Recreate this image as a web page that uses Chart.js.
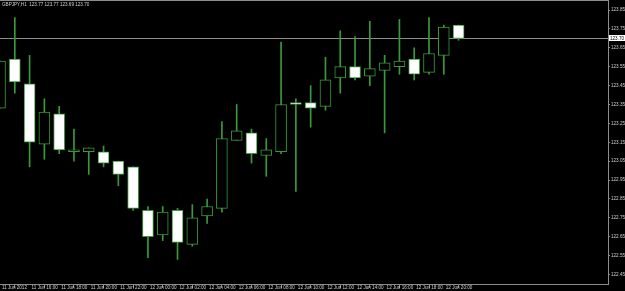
<!DOCTYPE html>
<html lang="en">
<head>
<meta charset="UTF-8">
<title>GBPJPY,H1</title>
<script src="https://cdn.jsdelivr.net/npm/chart.js"></script>
<style>
    html, body { margin: 0; padding: 0; background: #000; overflow: hidden; }
</style>
</head>
<body>
<canvas id="chart" width="625" height="291"></canvas>
<script>
    // GBPJPY H1 candles, 11 Jun 14:00 .. 12 Jun 21:00
    const symbol = 'GBPJPY,H1';
    const times = [
        '11 Jun 14:00', '11 Jun 15:00', '11 Jun 16:00', '11 Jun 17:00', '11 Jun 18:00', '11 Jun 19:00',
        '11 Jun 20:00', '11 Jun 21:00', '11 Jun 22:00', '11 Jun 23:00',
        '12 Jun 00:00', '12 Jun 01:00', '12 Jun 02:00', '12 Jun 03:00', '12 Jun 04:00', '12 Jun 05:00',
        '12 Jun 06:00', '12 Jun 07:00', '12 Jun 08:00', '12 Jun 09:00', '12 Jun 10:00', '12 Jun 11:00',
        '12 Jun 12:00', '12 Jun 13:00', '12 Jun 14:00', '12 Jun 15:00', '12 Jun 16:00', '12 Jun 17:00',
        '12 Jun 18:00', '12 Jun 19:00', '12 Jun 20:00', '12 Jun 21:00'
    ];
    const opens  = [123.33, 123.59, 123.46, 123.14, 123.30, 123.10, 123.10, 123.10, 123.05, 123.02, 122.79, 122.66, 122.79, 122.61, 122.76, 122.80,
                    123.16, 123.20, 123.08, 123.10, 123.36, 123.36, 123.34, 123.49, 123.55, 123.50, 123.53, 123.55, 123.59, 123.52, 123.61, 123.77];
    const highs  = [123.58, 123.81, 123.61, 123.38, 123.34, 123.22, 123.12, 123.13, 123.05, 123.02, 122.81, 122.81, 122.80, 122.82, 122.85, 123.26,
                    123.35, 123.22, 123.17, 123.68, 123.38, 123.45, 123.60, 123.74, 123.71, 123.79, 123.61, 123.80, 123.65, 123.81, 123.77, 123.77];
    const lows   = [123.33, 123.41, 123.02, 123.06, 123.09, 123.05, 122.98, 123.02, 122.92, 122.79, 122.54, 122.63, 122.53, 122.60, 122.72, 122.78,
                    123.16, 123.04, 122.97, 123.09, 122.89, 123.23, 123.32, 123.41, 123.48, 123.45, 123.20, 123.51, 123.48, 123.51, 123.51, 123.69];
    const closes = [123.58, 123.47, 123.15, 123.31, 123.11, 123.11, 123.12, 123.04, 122.98, 122.80, 122.65, 122.78, 122.62, 122.75, 122.81, 123.17,
                    123.21, 123.09, 123.11, 123.35, 123.35, 123.33, 123.48, 123.55, 123.49, 123.54, 123.57, 123.58, 123.51, 123.62, 123.76, 123.70];

    const yTicks = [123.85, 123.75, 123.65, 123.55, 123.45, 123.35, 123.25, 123.15, 123.05, 122.95, 122.85, 122.75, 122.65, 122.55, 122.45];
    const xTickLabels = [
        '11 Jun 2012', '11 Jun 16:00', '11 Jun 18:00', '11 Jun 20:00', '11 Jun 22:00',
        '12 Jun 00:00', '12 Jun 02:00', '12 Jun 04:00', '12 Jun 06:00', '12 Jun 08:00', '12 Jun 10:00',
        '12 Jun 12:00', '12 Jun 14:00', '12 Jun 16:00', '12 Jun 18:00', '12 Jun 20:00'
    ];

    const green = '#3a9a3a';
    const textColor = '#cfcfcf';
    const frameColor = '#8c8c8c';
    const tinyFont = { family: 'Liberation Sans', size: 4.6 };

    const last = times.length - 1;
    const bid = closes[last];

    const bodies = times.map((t, i) => ({ x: i, y: [opens[i], closes[i]] }));
    const wicks = times.map((t, i) => ({ x: i, y: [lows[i], highs[i]] }));
    // bull candle hollow (black), bear candle white
    const bodyFill = times.map((t, i) => closes[i] >= opens[i] ? '#000000' : '#ffffff');

    // bid line, price box and the header text
    const overlay = {
        id: 'overlay',
        beforeDatasetsDraw(chart) {
            const { ctx, chartArea, scales } = chart;
            const y = Math.round(scales.y.getPixelForValue(bid)) + 0.5;
            ctx.save();
            ctx.strokeStyle = frameColor;
            ctx.lineWidth = 1;
            ctx.beginPath();
            ctx.moveTo(chartArea.left, y);
            ctx.lineTo(chartArea.right, y);
            ctx.moveTo(chartArea.left, chartArea.top + 0.5);
            ctx.lineTo(chartArea.right, chartArea.top + 0.5);
            ctx.stroke();
            ctx.restore();
        },
        afterDraw(chart) {
            const { ctx, chartArea, scales } = chart;
            const y = Math.round(scales.y.getPixelForValue(bid));
            ctx.save();
            ctx.fillStyle = '#ffffff';
            ctx.fillRect(chartArea.right + 1, y - 3, 16, 6);
            ctx.fillStyle = '#000000';
            ctx.font = tinyFont.size + 'px "' + tinyFont.family + '"';
            ctx.textBaseline = 'middle';
            ctx.fillText(bid.toFixed(2), chartArea.right + 2, y + 0.5);

            ctx.fillStyle = textColor;
            ctx.textBaseline = 'top';
            const head = symbol + '  ' + [opens[last], highs[last], lows[last], closes[last]].map(v => v.toFixed(2)).join(' ');
            ctx.fillText(head, 2, 2);
            ctx.restore();
        }
    };

    new Chart(document.getElementById('chart').getContext('2d'), {
        type: 'bar',
        data: {
            labels: times,
            datasets: [
                {
                    label: 'body',
                    data: bodies,
                    grouped: false,
                    barThickness: 11,
                    backgroundColor: bodyFill,
                    borderColor: green,
                    borderWidth: 1,
                    borderSkipped: false
                },
                {
                    label: 'wick',
                    data: wicks,
                    grouped: false,
                    barThickness: 1,
                    backgroundColor: green,
                    borderWidth: 0
                }
            ]
        },
        options: {
            responsive: false,
            animation: false,
            layout: { padding: 0 },
            plugins: { legend: { display: false }, tooltip: { enabled: false } },
            scales: {
                x: {
                    type: 'linear',
                    offset: false,
                    min: 0,
                    max: 41.1,
                    afterBuildTicks: s => { s.ticks = xTickLabels.map((t, i) => ({ value: i * 2 })); },
                    afterFit: s => { s.height = 7; s.paddingLeft = 0; s.paddingRight = 0; },
                    grid: { drawOnChartArea: false, tickLength: 4, color: frameColor },
                    border: { display: true, color: frameColor },
                    ticks: {
                        autoSkip: false,
                        maxRotation: 0,
                        align: 'start',
                        labelOffset: 2,
                        padding: -3,
                        color: textColor,
                        font: tinyFont,
                        callback: (v, i) => xTickLabels[i]
                    }
                },
                y: {
                    position: 'right',
                    min: 122.40,
                    max: 123.903,
                    afterBuildTicks: s => { s.ticks = yTicks.map(v => ({ value: v })); },
                    afterFit: s => { s.width = 17; s.paddingTop = 0; s.paddingBottom = 0; },
                    grid: { drawOnChartArea: false, tickLength: 2, color: frameColor },
                    border: { display: true, color: frameColor },
                    ticks: {
                        padding: 1,
                        color: textColor,
                        font: tinyFont,
                        callback: v => v.toFixed(2)
                    }
                }
            }
        },
        plugins: [overlay]
    });
</script>
</body>
</html>
